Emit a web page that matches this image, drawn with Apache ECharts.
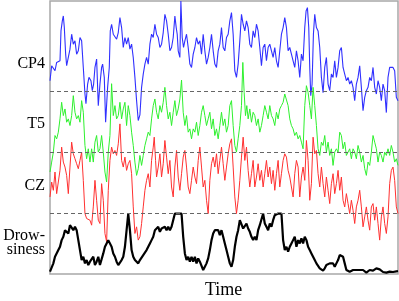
<!DOCTYPE html>
<html><head><meta charset="utf-8">
<script src="https://cdn.jsdelivr.net/npm/echarts@6/dist/echarts.min.js"></script>
<style>html,body{margin:0;padding:0;background:#fff}#c{width:399px;height:301px}</style>
</head><body><div id="c"></div>
<script>
function steps(a,b,s){var r=[];for(var t=a;t<=b;t+=s)r.push(t);return r;}
var channelLabels = ['CP4','T5','CZ'];
var drowsyLabel = ['Drow-','siness'];
var axisTitle = 'Time';

var cp4Time = [5,10,15,20,25,30,35,38,42,45,48,52,55,60,65,70,75,80,85,90,95,100,105,110,113,118,122,128,132,136,140,145,150,155,160,163,168,172,178,183,186,190].concat(steps(195,380,5),[384,387,390,395,398,402,406,410],steps(415,770,5),[774,778,782,785,788,792,796,800],steps(805,1050,5));
var cp4 = [33,78,73,63,88,83,93,183,213,228,193,113,78,103,128,173,143,153,113,123,163,153,73,-7,-36,23,43,33,3,23,73,98,-42,23,73,83,43,-92,13,73,183,203,
173,178,158,178,223,193,133,163,143,163,128,143,103,43,-27,-87,-70,13,53,83,103,83,143,173,163,203,173,163,133,143,178,233,213,173,123,133,163,228,
193,173,123,103,273,163,133,153,
173,133,83,73,113,133,163,143,153,113,173,123,83,103,133,173,123,83,73,123,143,193,133,123,163,173,213,238,173,63,43,83,153,233,203,183,213,193,143,133,183,163,203,183,133,78,133,143,93,133,143,123,103,133,93,73,123,173,193,223,193,123,133,113,93,73,123,93,43,113,93,193,
243,253,193,73,-12,23,173,233,
193,183,133,43,-3,73,103,23,3,53,43,93,43,73,123,133,73,53,33,43,23,33,13,-27,23,43,78,13,-57,-17,3,13,43,33,73,13,-7,33,13,-27,23,3,-63,43,73,68,73,63,-17,-27];

var t5Time = steps(5,580,5).concat([584,588,592,596],steps(600,1050,5));
var t5 = [-59,-29,1,51,41,61,101,151,111,131,91,101,81,111,171,121,101,111,91,156,121,21,-19,11,-29,11,-29,31,51,1,11,51,1,-59,-89,1,51,207,111,141,101,111,151,101,131,151,81,141,111,61,21,-29,-69,-49,-9,-39,-9,21,41,61,51,101,141,161,121,101,141,121,151,196,141,101,121,81,121,156,111,131,161,218,121,81,111,61,71,41,71,61,91,51,81,121,141,111,81,101,121,71,101,51,71,41,81,121,81,101,61,81,141,156,81,21,1,41,81,141,
271,181,111,141,
101,131,91,121,111,81,101,61,81,111,141,121,101,141,111,101,81,121,101,131,141,151,176,181,141,101,81,71,51,61,41,51,31,11,141,201,181,141,101,196,141,81,11,-9,31,21,51,1,31,-9,11,-39,1,11,1,61,51,11,31,-9,1,11,-19,11,1,-19,21,1,-29,-9,-49,-69,-29,-39,1,51,31,11,-29,1,-9,-29,1,-9,11,-9,21,1,-29,-19,-39];

var czTime = steps(5,315,5).concat([318,322],steps(325,1050,5));
var cz = [49,94,69,124,59,94,129,199,154,139,114,59,139,214,179,164,149,134,159,184,99,-1,-16,-11,-21,-36,19,99,39,-21,-31,89,39,-61,-86,69,159,199,179,189,174,209,269,159,139,169,129,149,159,119,19,-61,-41,-81,-71,-31,19,69,99,119,79,159,199,
229,159,
109,139,179,109,149,219,169,119,159,79,49,139,189,109,69,119,169,189,139,79,59,99,139,109,89,159,199,139,79,99,39,-1,99,149,169,139,179,119,159,199,149,99,139,179,209,224,139,49,-1,39,99,169,229,159,199,129,79,119,159,79,109,149,99,129,79,119,159,109,139,89,129,69,119,159,79,119,159,179,169,129,109,79,49,119,159,139,49,109,139,99,219,159,39,89,229,179,189,119,79,139,89,49,109,69,29,89,119,59,89,129,69,109,39,19,59,29,-1,39,9,-31,19,39,69,19,-41,-11,19,-21,-51,19,29,-21,19,-31,-81,-11,19,-31,-61,-11,89,129,139,99,19,-1];

var drowsyTime = steps(5,1050,5);
var drowsiness = [7,12,32,52,57,72,82,102,112,132,137,122,147,152,132,142,132,102,72,42,52,32,42,27,37,32,52,27,37,52,27,32,62,82,92,102,97,82,62,52,37,27,32,42,52,82,132,182,132,72,52,42,37,32,42,47,57,52,72,82,92,102,112,132,137,142,127,137,142,142,132,142,132,142,142,182,182,182,182,182,112,62,42,52,37,52,37,52,32,47,37,42,12,22,32,47,72,102,122,132,127,132,117,132,112,92,72,52,32,22,42,82,112,132,162,167,137,142,152,137,127,112,102,112,102,132,147,152,182,152,142,132,152,142,162,177,182,182,182,182,102,72,82,67,82,92,102,112,82,102,92,107,92,112,102,82,72,62,52,42,32,27,17,12,10,17,27,27,32,27,32,22,32,42,57,62,52,32,12,7,7,9,12,10,12,7,12,17,12,7,4,7,12,7,10,14,17,19,14,10,6,4,4,6,7,7,6,6,8,9];

var offsets = [549,366,183,0];
var colors = ['#3030ff','#2ef02e','#ff3030','#000000'];
function pairs(ts,vs,off){return ts.map(function(t,i){return [t, vs[i]+off];});}

var chart = echarts.init(document.getElementById('c'),null,{renderer:'canvas'});
var lineBase = {type:'line',symbol:'none',smooth:false,animation:false,silent:true};
var serif = "'Liberation Serif','Times New Roman',serif";
chart.setOption({
  animation:false,
  grid:{left:50,right:1,top:1,bottom:27,show:true,borderColor:'#a8a8a8',borderWidth:1.5,backgroundColor:'transparent'},
  xAxis:{type:'value',min:5,max:1050,axisLine:{show:false},axisTick:{show:false},axisLabel:{show:false},splitLine:{show:false}},
  yAxis:{type:'value',min:0,max:822,axisLine:{show:false},axisTick:{show:false},axisLabel:{show:false},splitLine:{show:false}},
  series:[
    Object.assign({},lineBase,{name:'CP4',data:pairs(cp4Time,cp4,offsets[0]),lineStyle:{color:colors[0],width:1.1}}),
    Object.assign({},lineBase,{name:'T5',data:pairs(t5Time,t5,offsets[1]),lineStyle:{color:colors[1],width:1}}),
    Object.assign({},lineBase,{name:'CZ',data:pairs(czTime,cz,offsets[2]),lineStyle:{color:colors[2],width:1}}),
    Object.assign({},lineBase,{name:'Drowsiness',data:pairs(drowsyTime,drowsiness,offsets[3]),lineStyle:{color:colors[3],width:2.2},
      markLine:{silent:true,symbol:'none',label:{show:false},lineStyle:{color:'#666',type:[4,3],width:1},
        data:[{yAxis:offsets[0]},{yAxis:offsets[1]},{yAxis:offsets[2]}]}})
  ],
  graphic:[
    {type:'text',right:399-45,top:56,style:{text:channelLabels[0],font:'16px '+serif,fill:'#000'}},
    {type:'text',right:399-45,top:116,style:{text:channelLabels[1],font:'16px '+serif,fill:'#000'}},
    {type:'text',right:399-45,top:178,style:{text:channelLabels[2],font:'16px '+serif,fill:'#000'}},
    {type:'text',right:399-45,top:228,style:{text:drowsyLabel[0],font:'16px '+serif,fill:'#000'}},
    {type:'text',right:399-45,top:242,style:{text:drowsyLabel[1],font:'16px '+serif,fill:'#000'}},
    {type:'text',left:205,top:281,style:{text:axisTitle,font:'18px '+serif,fill:'#000'}}
  ]
});
</script></body></html>
